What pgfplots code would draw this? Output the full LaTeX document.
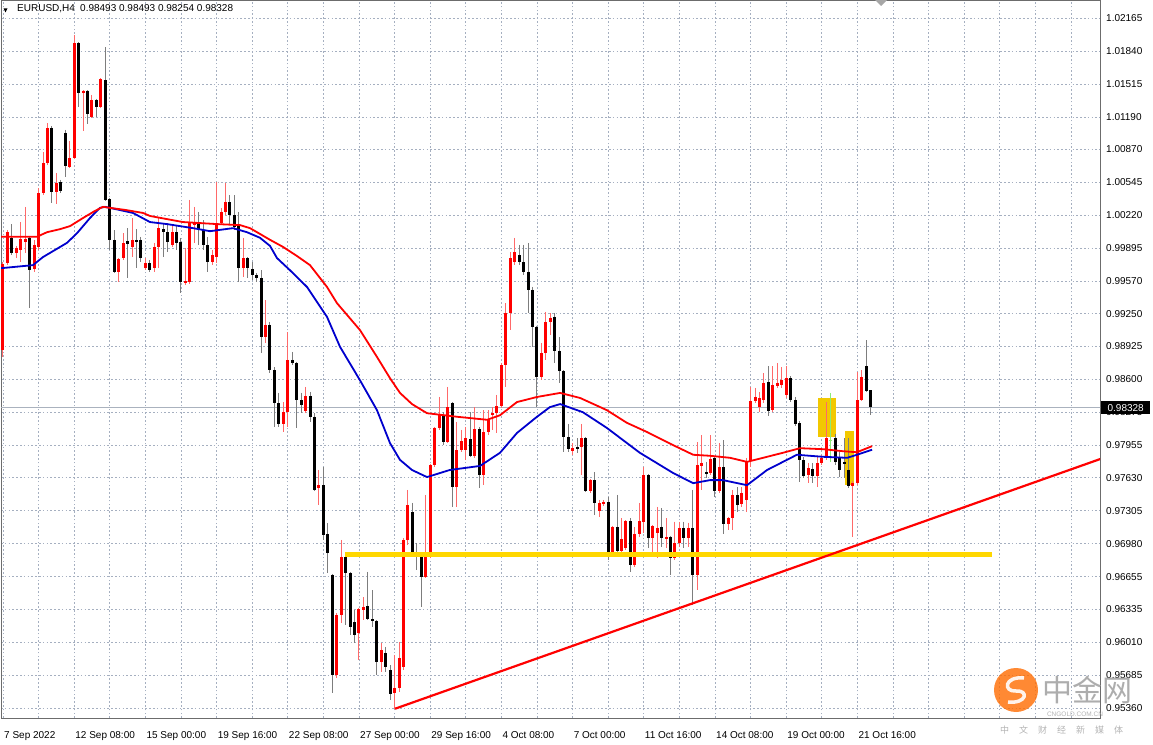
\documentclass[border=0pt]{standalone}
\usepackage{fontspec}
\setmainfont{Liberation Sans}
\newfontfamily\cjk{Noto Sans CJK SC}
\usepackage{pgfplots}
\pgfplotsset{compat=1.18}
\usepackage{pgfplotstable}

\definecolor{gridc}{RGB}{165,175,192}
\definecolor{mtred}{RGB}{255,0,0}
\definecolor{wickred}{RGB}{255,105,105}
\definecolor{wickgray}{RGB}{125,125,125}
\definecolor{mablue}{RGB}{0,0,205}
\definecolor{gold}{RGB}{255,215,0}
\definecolor{rectgold}{RGB}{242,200,0}
\definecolor{dojigreen}{RGB}{140,235,120}
\definecolor{pricegray}{RGB}{170,178,190}

% bullish (red) candles: bar, open, high, low, close
\pgfplotstableread{
k o h l c
0 0.988925 0.997575 0.988225 0.997375
1 0.997475 1.000725 0.997275 1.000525
3 0.998475 0.999175 0.997975 0.998975
4 0.998775 1.001525 0.997575 0.999875
5 0.999575 1.003025 0.998475 0.999875
7 0.996875 0.999775 0.996625 0.999275
8 0.999075 1.004875 0.998775 1.004375
9 1.004375 1.008425 1.004175 1.007325
10 1.007325 1.011275 1.007175 1.010825
12 1.004475 1.006375 1.003325 1.005375
15 1.006975 1.009525 1.006875 1.007825
16 1.007825 1.019975 1.007725 1.019175
18 1.014275 1.014525 1.010525 1.014475
20 1.011875 1.014075 1.011775 1.013575
22 1.012875 1.015725 1.012775 1.015625
26 0.996625 0.997975 0.995625 0.997875
27 0.997975 1.000425 0.997775 0.999475
29 0.999075 1.001925 0.998075 0.999775
32 0.996975 0.997975 0.996775 0.997475
34 0.996975 0.999475 0.996625 0.999075
35 0.999075 1.001925 0.996975 1.000925
38 0.999275 1.001225 0.999075 1.000525
41 0.995525 0.998975 0.995325 0.995725
42 0.995625 1.003725 0.995425 1.001425
43 1.001225 1.003025 0.999475 1.001525
47 0.997575 0.998775 0.997275 0.998275
48 0.998075 1.005475 0.997475 1.001425
49 1.001425 1.002925 1.001225 1.002525
50 1.002525 1.005375 1.002225 1.003525
54 0.996975 0.999975 0.996125 0.997975
59 0.990175 0.993825 0.989575 0.991375
63 0.981625 0.983775 0.980825 0.982775
64 0.982775 0.990675 0.981325 0.987925
68 0.982875 0.985275 0.982675 0.984375
71 0.975275 0.977075 0.973625 0.975575
75 0.956875 0.962975 0.956575 0.962775
76 0.962775 0.970175 0.961975 0.968475
80 0.960975 0.963475 0.958325 0.963375
81 0.963275 0.964525 0.962275 0.963575
85 0.958125 0.960025 0.957175 0.959325
88 0.955075 0.958825 0.953525 0.955575
89 0.955575 0.960125 0.955175 0.958525
90 0.957625 0.970375 0.957325 0.970175
91 0.970175 0.975125 0.969675 0.973625
95 0.966525 0.974625 0.966425 0.968775
96 0.968775 0.977675 0.968375 0.977575
97 0.977575 0.981325 0.977375 0.981225
98 0.981225 0.984275 0.981025 0.982475
100 0.979825 0.985275 0.979725 0.983275
102 0.975375 0.981825 0.973425 0.979025
103 0.979025 0.981025 0.978825 0.979925
104 0.979025 0.981325 0.978075 0.980225
106 0.978475 0.983275 0.978275 0.981125
108 0.976575 0.982975 0.975575 0.980825
109 0.980825 0.982975 0.980525 0.982025
110 0.982475 0.983275 0.981025 0.982675
111 0.982675 0.984475 0.980725 0.983375
112 0.983375 0.987625 0.983175 0.987425
113 0.987425 0.993525 0.985275 0.992575
114 0.992575 0.998575 0.990875 0.997975
115 0.997575 0.999975 0.997275 0.998575
121 0.986225 0.989575 0.985925 0.988625
122 0.988625 0.992675 0.987925 0.991675
123 0.991675 0.992575 0.990375 0.992075
128 0.978925 0.979725 0.978575 0.979225
130 0.979325 0.981625 0.976575 0.980225
132 0.975025 0.976175 0.974825 0.976075
134 0.973025 0.974125 0.972425 0.973825
135 0.973725 0.974125 0.973525 0.973925
137 0.968775 0.971575 0.968575 0.971475
139 0.969075 0.972325 0.968475 0.970275
140 0.969375 0.972125 0.969175 0.972025
142 0.967725 0.971475 0.967525 0.970775
143 0.970775 0.973825 0.970475 0.972075
144 0.971925 0.977375 0.970875 0.976575
146 0.970375 0.971625 0.968975 0.971575
147 0.970875 0.973425 0.968375 0.971375
149 0.970275 0.972325 0.969375 0.970475
151 0.968375 0.971975 0.968175 0.969875
152 0.969875 0.971975 0.969475 0.971375
154 0.970375 0.971875 0.969475 0.971375
156 0.966725 0.979825 0.965225 0.977575
157 0.977475 0.980525 0.975125 0.977775
159 0.976775 0.980525 0.976575 0.978175
161 0.975025 0.979725 0.974825 0.977375
163 0.971725 0.972425 0.971175 0.972325
164 0.972325 0.975125 0.971175 0.974625
166 0.973725 0.975375 0.973425 0.974825
167 0.974125 0.978275 0.972925 0.977875
168 0.977975 0.985275 0.977375 0.983875
169 0.983875 0.985175 0.983675 0.984275
170 0.983275 0.984775 0.982775 0.984175
171 0.983975 0.986625 0.983675 0.985675
173 0.982975 0.987325 0.982775 0.985475
174 0.985375 0.987625 0.985175 0.985675
175 0.985475 0.987225 0.985175 0.985925
176 0.984475 0.987325 0.984175 0.986125
181 0.976575 0.977775 0.975775 0.977275
183 0.976475 0.978375 0.975375 0.977775
184 0.977775 0.978575 0.977575 0.978275
185 0.978275 0.983775 0.978075 0.980225
191 0.975475 0.975975 0.970475 0.975775
192 0.975775 0.986725 0.975575 0.983975
193 0.983975 0.986925 0.983875 0.986225
}\bull

% bearish (black) candles: bar, open, high, low, close
\pgfplotstableread{
k o h l c
2 0.999975 1.001325 0.998275 0.998475
6 0.999975 1.000175 0.993075 0.996775
11 1.010825 1.010975 1.003425 1.004475
13 1.005475 1.005675 1.004375 1.004575
14 1.010325 1.010625 1.005975 1.007075
17 1.019175 1.019275 1.012875 1.014275
19 1.014475 1.014525 1.011175 1.012175
21 1.013575 1.013675 1.011875 1.012875
23 1.015525 1.018775 1.003625 1.003725
24 1.003775 1.003875 0.998775 0.999775
25 0.999775 1.000725 0.996525 0.996625
28 0.999675 1.000925 0.996025 0.999375
30 0.999775 1.000825 0.996975 0.999575
31 0.999775 1.000075 0.997575 0.997975
33 0.997475 0.997775 0.996625 0.996775
36 1.000825 1.001425 0.998075 1.000525
37 1.000525 1.001425 0.998575 0.999575
39 1.000525 1.001225 0.998775 0.999475
40 0.999575 0.999975 0.994525 0.995625
44 1.001425 1.002525 0.999275 1.000725
45 1.000725 1.001725 0.998775 0.999275
46 0.999275 1.000075 0.996625 0.997575
51 1.003525 1.004175 1.001225 1.002225
52 1.002225 1.004175 1.000725 1.001025
53 1.001125 1.002525 0.995625 0.996975
55 0.997975 0.998075 0.996025 0.996975
56 0.996875 0.997575 0.995825 0.996325
57 0.996325 0.996525 0.995625 0.996025
58 0.996025 0.996775 0.988625 0.990175
60 0.991375 0.991675 0.986625 0.986925
61 0.986925 0.987225 0.981325 0.983675
62 0.983675 0.984675 0.981325 0.981625
65 0.987925 0.988725 0.987425 0.987625
66 0.987625 0.987725 0.981225 0.983975
67 0.983975 0.984675 0.982675 0.983475
69 0.984375 0.984775 0.981825 0.982325
70 0.982325 0.982675 0.975025 0.975125
72 0.975575 0.977375 0.970175 0.970675
73 0.970775 0.971825 0.966925 0.968875
74 0.966725 0.966825 0.955075 0.956875
77 0.968475 0.968975 0.961775 0.966925
78 0.966925 0.967025 0.960825 0.961575
79 0.962075 0.963275 0.960025 0.960825
82 0.963675 0.967025 0.962275 0.962375
83 0.962375 0.965225 0.961575 0.962175
84 0.962175 0.962275 0.956875 0.958125
86 0.959025 0.959625 0.957175 0.957625
87 0.957325 0.957825 0.954375 0.954975
92 0.972925 0.973825 0.968675 0.968875
93 0.968875 0.969875 0.967225 0.968475
94 0.968575 0.968675 0.963575 0.966525
99 0.982475 0.982775 0.979525 0.979825
101 0.983675 0.983775 0.973425 0.975375
105 0.980125 0.982775 0.978375 0.978475
107 0.981125 0.981325 0.975275 0.976575
116 0.998275 0.999275 0.997275 0.997575
117 0.997575 0.999275 0.996325 0.996625
118 0.996625 0.999475 0.992575 0.994825
119 0.994825 0.995125 0.989225 0.991175
120 0.991175 0.991275 0.983275 0.986225
124 0.992175 0.992575 0.987625 0.988825
125 0.988825 0.990175 0.985675 0.986825
126 0.986825 0.986925 0.978825 0.980325
127 0.980325 0.981625 0.978825 0.979125
129 0.979325 0.980225 0.978775 0.979125
131 0.980225 0.980325 0.974925 0.975025
133 0.976075 0.976875 0.972625 0.973825
136 0.973925 0.974425 0.968175 0.968775
138 0.971475 0.974625 0.968475 0.969075
141 0.972025 0.972325 0.967025 0.967725
145 0.976575 0.976675 0.969375 0.970375
148 0.971475 0.973325 0.969475 0.970375
150 0.970475 0.970575 0.966725 0.968375
153 0.971375 0.971975 0.969375 0.970375
155 0.971375 0.975125 0.963775 0.966725
158 0.976875 0.977875 0.976275 0.976675
160 0.978275 0.978375 0.974425 0.975025
162 0.977375 0.980025 0.970775 0.971725
165 0.974625 0.975375 0.972925 0.973625
172 0.985775 0.987325 0.982375 0.982875
177 0.986125 0.986325 0.983775 0.983975
178 0.983975 0.984275 0.981425 0.981625
179 0.981725 0.981925 0.975875 0.978075
180 0.978075 0.978375 0.976275 0.976475
182 0.977175 0.977775 0.975775 0.976475
187 0.980225 0.980625 0.977575 0.977875
188 0.978375 0.978825 0.976375 0.977075
189 0.977875 0.980225 0.976275 0.977675
190 0.977075 0.980225 0.975275 0.975475
194 0.987325 0.989875 0.984775 0.984880
195 0.984930 0.984930 0.982540 0.983280
}\bear

\begin{document}
\begin{tikzpicture}[x=1pt,y=1pt]
\useasboundingbox (0,0) rectangle (1153,744);
\begin{axis}[
  at={(1pt,26pt)}, anchor=south west,
  scale only axis, width=1099pt, height=718pt,
  xmin=-0.449, xmax=246.52,
  ymin=0.952616, ymax=1.023425,
  axis background/.style={fill=white},
  axis line style={draw=gray!85!black, line width=0.8pt},
  tick style={draw=none}, major tick length=0pt,
  scaled x ticks=false, scaled y ticks=false,
  grid=major,
  major grid style={draw=gridc, dash pattern=on 1.6pt off 2.2pt, line width=0.7pt},
  xtick={0,8,...,240},
  xticklabels={{7 Sep 2022},{},{12 Sep 08:00},{},{15 Sep 00:00},{},{19 Sep 16:00},{},{22 Sep 08:00},{},{27 Sep 00:00},{},{29 Sep 16:00},{},{4 Oct 08:00},{},{7 Oct 00:00},{},{11 Oct 16:00},{},{14 Oct 08:00},{},{19 Oct 00:00},{},{21 Oct 16:00},{},{},{},{},{},{}},
  ytick={1.02165,1.01840,1.01515,1.01190,1.00870,1.00545,1.00220,0.99895,0.99570,0.99250,0.98925,0.98600,0.98275,0.97955,0.97630,0.97305,0.96980,0.96655,0.96335,0.96010,0.95685,0.95360},
  yticklabels={1.02165,1.01840,1.01515,1.01190,1.00870,1.00545,1.00220,0.99895,0.99570,0.99250,0.98925,0.98600,0.98275,0.97955,0.97630,0.97305,0.96980,0.96655,0.96335,0.96010,0.95685,0.95360},
  yticklabel pos=right,
  xticklabel style={anchor=base west, inner sep=0pt, yshift=-20pt, xshift=1pt, font=\fontsize{10}{12}\selectfont},
  yticklabel style={anchor=west, inner sep=0pt, xshift=6pt, font=\fontsize{10}{12}\selectfont},
]
% current price line
\addplot[draw=pricegray, line width=0.8pt] coordinates {(-1,0.98328) (247,0.98328)};
% highlight rectangles
\fill[rectgold] (axis cs:183.1,0.984175) rectangle (axis cs:187.2,0.980325);
\fill[rectgold] (axis cs:189.2,0.980925) rectangle (axis cs:191.2,0.975575);
% wicks
\addplot[draw=none, mark=none, error bars/.cd, y dir=minus, y explicit, error mark=none,
  error bar style={draw=wickgray, line width=1pt}]
  table[x=k, y=h, y error minus expr=\thisrow{h}-\thisrow{l}] {\bear};
\addplot[draw=none, mark=none, error bars/.cd, y dir=minus, y explicit, error mark=none,
  error bar style={draw=wickred, line width=1pt}]
  table[x=k, y=h, y error minus expr=\thisrow{h}-\thisrow{l}] {\bull};
% bodies
\addplot[draw=none, mark=none, error bars/.cd, y dir=minus, y explicit, error mark=none,
  error bar style={draw=black, line width=3pt}]
  table[x=k, y=o, y error minus expr=\thisrow{o}-\thisrow{c}] {\bear};
\addplot[draw=none, mark=none, error bars/.cd, y dir=minus, y explicit, error mark=none,
  error bar style={draw=mtred, line width=3pt}]
  table[x=k, y=c, y error minus expr=\thisrow{c}-\thisrow{o}] {\bull};
% doji bar
\addplot[draw=dojigreen, line width=1pt] coordinates {(186,0.984675) (186,0.977875)};
\addplot[draw=dojigreen, line width=3pt] coordinates {(186,0.980075) (186,0.979975)};
% moving averages
\addplot[draw=mablue, line width=1.8pt, line join=round] coordinates {
(-0.45,0.996975) (6.74,0.997275) (8.99,0.998075) (11.69,0.998775) (14.38,0.999475) (16.63,1.000425) (19.55,1.001925) (21.8,1.002925) (22.92,1.003025) (24.04,1.002925) (29.21,1.002425) (33.03,1.001525) (36.85,1.001325) (42.70,1.000925) (46.52,1.000625) (51.69,1.000925) (54.83,1.000525) (57.75,0.999975) (60.0,0.999175) (61.57,0.997975) (64.49,0.996775) (68.31,0.995125) (72.81,0.992175) (75.73,0.989225) (80.22,0.985925) (84.04,0.982975) (86.97,0.979725) (89.21,0.978075) (91.91,0.977075) (95.28,0.976375) (100.4,0.977075) (107.2,0.977475) (111.7,0.978775) (115.5,0.980725) (120.0,0.982325) (122.9,0.983275) (125.2,0.983575) (130.3,0.982775) (135.7,0.981225) (143.1,0.978775) (150.6,0.976775) (155.1,0.975775) (158.9,0.976075) (161.8,0.976075) (167.2,0.975575) (171.7,0.977075) (178.4,0.978575) (184.3,0.978375) (189.7,0.978275) (191.9,0.978575) (195.3,0.979075)};
\addplot[draw=mtred, line width=1.8pt, line join=round] coordinates {
(-0.45,1.000075) (7.64,1.000075) (9.89,1.000525) (12.81,1.000825) (15.06,1.001125) (17.98,1.001925) (20.67,1.002625) (22.47,1.003025) (24.04,1.002925) (27.42,1.002725) (31.46,1.002425) (33.03,1.002125) (40.45,1.001525) (48.09,1.001325) (53.26,1.001225) (55.51,1.000925) (57.08,1.000525) (60.0,0.999775) (62.92,0.999075) (66.07,0.998175) (68.99,0.997275) (72.81,0.995125) (75.06,0.993525) (80.22,0.990875) (84.04,0.988225) (86.97,0.986125) (89.21,0.984675) (91.91,0.983575) (95.28,0.982675) (102.0,0.982325) (108.8,0.982025) (111.7,0.982475) (115.5,0.983775) (120.0,0.984275) (125.2,0.984675) (129.7,0.984175) (135.7,0.982975) (140.2,0.981725) (144.7,0.980825) (150.6,0.979525) (155.1,0.978575) (158.9,0.978475) (163.4,0.978275) (167.2,0.977875) (170.8,0.978275) (175.3,0.978775) (179.1,0.979225) (184.3,0.979125) (188.8,0.978925) (191.9,0.978825) (195.3,0.979425)};
% support level and trend line
\addplot[draw=gold, line width=5pt] coordinates {(76.85,0.968775) (222.2,0.968775)};
\addplot[draw=mtred, line width=2.2pt] coordinates {(88.1,0.95353) (246.6,0.97816)};
\end{axis}
% header
\fill (3.5,735.5) -- (7.5,735.5) -- (5.5,731.5) -- cycle;
\node[anchor=base west, inner sep=0pt, font=\fontsize{10}{12}\selectfont] at (17,732.3) {EURUSD,H4};
\node[anchor=base west, inner sep=0pt, font=\fontsize{10}{12}\selectfont] at (80,732.3) {0.98493 0.98493 0.98254 0.98328};
\fill[gray!70] (875,744) -- (887,744) -- (881,738) -- cycle;
% current price label
\node[fill=black, text=white, anchor=west, minimum width=49pt, minimum height=13pt, inner sep=0pt, font=\fontsize{10}{12}\selectfont] at (1101,336) {0.98328};
% watermark
\fill[orange!85!red, opacity=0.8] (1016,54) circle (22);
\draw[white, line width=3.5pt, opacity=0.9] (1024,66) .. controls (1004,68) and (1003,52) .. (1016,53) .. controls (1029,54) and (1027,40) .. (1008,42);
\node[anchor=west, text=gray!75, opacity=0.85, inner sep=0pt, font=\cjk\fontsize{30}{30}\selectfont] at (1042,54) {中金网};
\node[anchor=base, text=gray!70, opacity=0.85, inner sep=0pt, font=\fontsize{6.5}{7}\selectfont] at (1075,28) {CNGOLD.COM.CN};
\node[anchor=base west, text=gray!70, opacity=0.85, inner sep=0pt, font=\cjk\fontsize{9}{10}\selectfont] at (1000,11) {中\hspace{10pt}文\hspace{10pt}财\hspace{10pt}经\hspace{10pt}新\hspace{10pt}媒\hspace{10pt}体};
\end{tikzpicture}
\end{document}
